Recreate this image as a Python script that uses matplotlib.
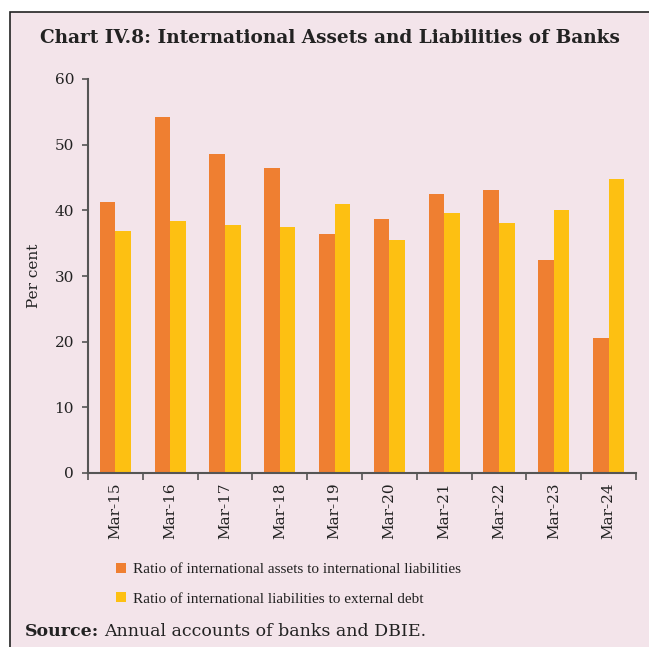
import matplotlib.pyplot as plt
import numpy as np
from matplotlib.patches import Rectangle, Patch

categories = ["Mar-15", "Mar-16", "Mar-17", "Mar-18", "Mar-19",
              "Mar-20", "Mar-21", "Mar-22", "Mar-23", "Mar-24"]
assets_to_liab = [41.3, 54.2, 48.6, 46.4, 36.4, 38.7, 42.5, 43.1, 32.4, 20.6]
liab_to_debt = [36.9, 38.4, 37.8, 37.5, 41.0, 35.5, 39.6, 38.1, 40.0, 44.8]
series_labels = ["Ratio of international assets to international liabilities",
                 "Ratio of international liabilities to external debt"]

ORANGE = "#EF7F31"
YELLOW = "#FDC012"
BG = "#F3E4EA"
AXIS = "#555555"
TEXT = "#222222"

SERIF_WIDE = ["DejaVu Serif"]
SERIF_NARROW = ["Liberation Serif", "DejaVu Serif"]
plt.rcParams["font.family"] = SERIF_WIDE

W, H = 649, 647
fig = plt.figure(figsize=(W / 100, H / 100), dpi=100, facecolor="white")

# framed pink panel
fig.patches.append(Rectangle((10 / W, -0.01), 1.0, 1 - 12 / H + 0.01,
                             transform=fig.transFigure, facecolor=BG,
                             edgecolor="#222222", linewidth=1.2, zorder=-10))

ax = fig.add_axes([88 / W, 1 - 473 / H, 548 / W, 394 / H])
ax.set_facecolor("none")

x = np.arange(len(categories))
bw = 0.285
ax.bar(x - bw / 2, assets_to_liab, width=bw, color=ORANGE, label=series_labels[0])
ax.bar(x + bw / 2, liab_to_debt, width=bw, color=YELLOW, label=series_labels[1])

ax.set_xlim(-0.5, len(categories) - 0.5)
ax.set_ylim(0, 60)
ax.set_yticks(range(0, 61, 10))
ax.set_xticks(x)
ax.set_xticklabels(categories, rotation=90, fontsize=11, color=TEXT)
ax.set_xticks(np.arange(-0.5, len(categories), 1.0), minor=True)
ax.tick_params(axis="x", which="major", length=0, pad=7)
ax.tick_params(axis="x", which="minor", length=5, width=1.2, color=AXIS, direction="out")
ax.tick_params(axis="y", length=4, width=1.2, color=AXIS, labelsize=11, labelcolor=TEXT, pad=6)

for side in ["top", "right"]:
    ax.spines[side].set_visible(False)
for side in ["left", "bottom"]:
    ax.spines[side].set_color(AXIS)
    ax.spines[side].set_linewidth(1.5)

ax.set_ylabel("Per cent", fontsize=11, color=TEXT, labelpad=10)

fig.text(40 / W, 1 - 38 / H, "Chart IV.8: International Assets and Liabilities of Banks",
         fontsize=13.3, fontweight="bold", color=TEXT, va="center", ha="left")

handles = [Patch(facecolor=ORANGE), Patch(facecolor=YELLOW)]
fig.legend(handles, series_labels, loc="upper left",
           bbox_to_anchor=(102 / W, 1 - 549 / H), frameon=False,
           prop={"family": SERIF_NARROW, "size": 11},
           handlelength=0.65, handleheight=0.65,
           handletextpad=0.45, labelspacing=1.05, labelcolor=TEXT)

t = fig.text(25 / W, 1 - 632 / H, "Source:", fontsize=12.5, fontweight="bold",
             color=TEXT, va="center", ha="left")
fig.canvas.draw()
bb = t.get_window_extent()
fig.text((bb.x1 + 5) / W, 1 - 632 / H, "Annual accounts of banks and DBIE.",
         fontsize=12.5, color=TEXT, va="center", ha="left")

fig.savefig("out.png", dpi=100, facecolor="white")
